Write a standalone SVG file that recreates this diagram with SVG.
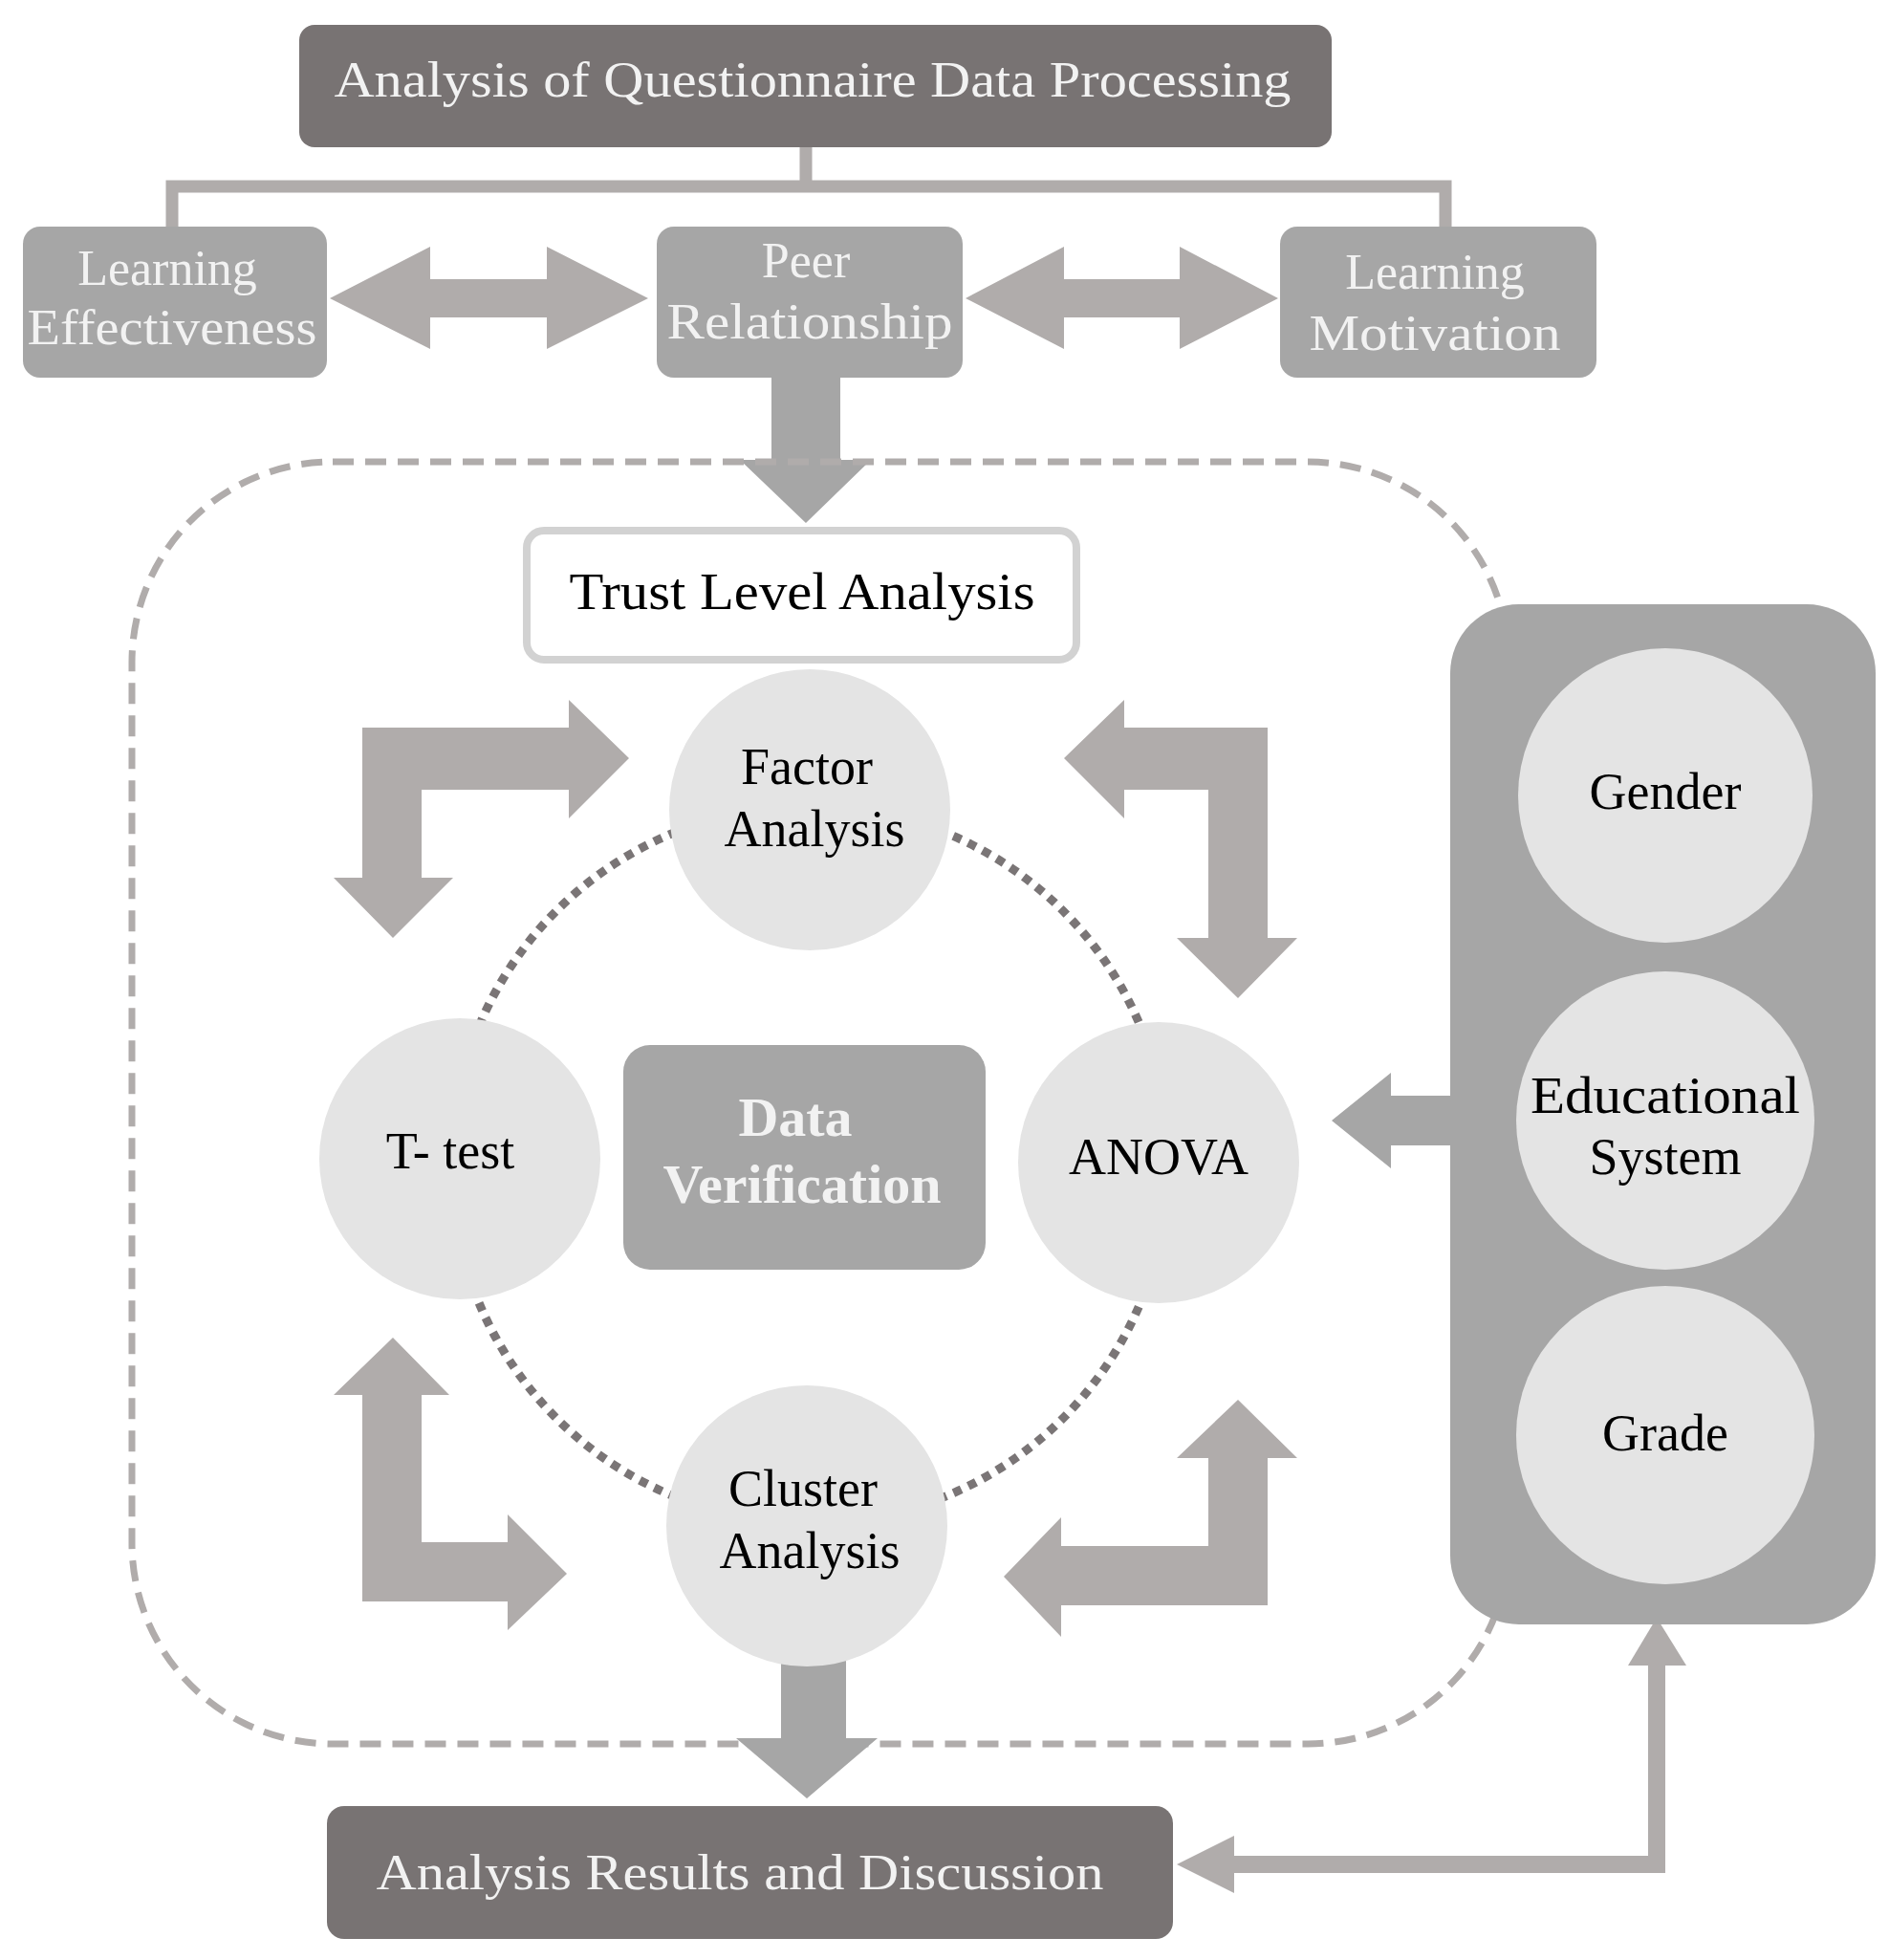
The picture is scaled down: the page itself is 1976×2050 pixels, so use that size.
<svg xmlns="http://www.w3.org/2000/svg" width="1976" height="2050" viewBox="0 0 1976 2050">
<style>
text{font-family:"Liberation Serif","DejaVu Serif",serif;text-anchor:middle}
.w{fill:#f2f2f2;font-size:52px}
.k{fill:#000;font-size:54px}
.a{fill:#b0acab}
.g{fill:#a6a6a6}
.c{fill:#e4e4e4}
</style>
<rect width="1976" height="2050" fill="#fff"/>
<g id="connectors">
<path d="M843 154V195M180 237V195H1512V237" fill="none" stroke="#b0acab" stroke-width="13"/>
<polygon class="a" points="345,312 450,258 450,292 572,292 572,258 678,312 572,365 572,332 450,332 450,365"/>
<polygon class="a" points="1010,312 1113,258 1113,292 1234,292 1234,258 1337,312 1234,365 1234,332 1113,332 1113,365"/>
<polygon class="g" points="807,395 879,395 879,481 911,481 843,547 774,481 807,481"/>
<rect x="138" y="483" width="1440" height="1341" rx="210" fill="none" stroke="#b0acab" stroke-width="7" stroke-dasharray="22 12"/>
<circle cx="847" cy="1218" r="375" fill="none" stroke="#7a7576" stroke-width="9" stroke-dasharray="9 8"/>
<polygon class="a" points="379,761 595,761 595,732 658,793 595,856 595,826 441,826 441,918 474,918 411,981 349,918 379,918"/>
<polygon class="a" points="1326,761 1176,761 1176,732 1113,793 1176,856 1176,826 1264,826 1264,981 1231,981 1295,1044 1357,981 1326,981"/>
<polygon class="a" points="379,1675 531,1675 531,1705 593,1646 531,1584 531,1613 441,1613 441,1459 470,1459 411,1399 349,1459 379,1459"/>
<polygon class="a" points="1326,1679 1110,1679 1110,1712 1050,1649 1110,1587 1110,1617 1264,1617 1264,1525 1231,1525 1295,1464 1357,1525 1326,1525"/>
<polygon class="g" points="1517,1146 1455,1146 1455,1122 1393,1172 1455,1222 1455,1198 1517,1198"/>
<polygon class="g" points="817,1728 885,1728 885,1818 918,1818 844,1881 770,1818 817,1818"/>
<path d="M1291 1950H1733V1742" fill="none" stroke="#b0acab" stroke-width="18"/>
<polygon class="a" points="1231,1950 1291,1920 1291,1980"/>
<polygon class="a" points="1703,1742 1733,1692 1764,1742"/>
</g>
<g id="top"><rect x="313" y="26" width="1080" height="128" rx="16" fill="#787373"/><text class="w" x="850" y="101" textLength="1001" lengthAdjust="spacingAndGlyphs">Analysis of Questionnaire Data Processing</text></g>
<g id="le"><rect class="g" x="24" y="237" width="318" height="158" rx="18"/><text class="w" x="175" y="298">Learning</text><text class="w" x="180" y="360" textLength="303" lengthAdjust="spacingAndGlyphs">Effectiveness</text></g>
<g id="pr"><rect class="g" x="687" y="237" width="320" height="158" rx="18"/><text class="w" x="843" y="290">Peer</text><text class="w" x="847" y="354" textLength="299" lengthAdjust="spacingAndGlyphs">Relationship</text></g>
<g id="lm"><rect class="g" x="1339" y="237" width="331" height="158" rx="18"/><text class="w" x="1501" y="302">Learning</text><text class="w" x="1501" y="366" textLength="263" lengthAdjust="spacingAndGlyphs">Motivation</text></g>
<g id="trust"><rect x="551" y="555" width="575" height="135" rx="18" fill="#fff" stroke="#d2d2d2" stroke-width="8"/><text class="k" x="839" y="637" textLength="487" lengthAdjust="spacingAndGlyphs">Trust Level Analysis</text></g>
<g id="factor"><circle class="c" cx="847" cy="847" r="147"/><text class="k" x="844" y="820">Factor</text><text class="k" x="852" y="885">Analysis</text></g>
<g id="ttest"><circle class="c" cx="481" cy="1212" r="147"/><text class="k" x="471" y="1222">T- test</text></g>
<g id="anova"><circle class="c" cx="1212" cy="1216" r="147"/><text class="k" x="1212" y="1228">ANOVA</text></g>
<g id="cluster"><circle class="c" cx="844" cy="1596" r="147"/><text class="k" x="840" y="1575">Cluster</text><text class="k" x="847" y="1640">Analysis</text></g>
<g id="verify"><rect class="g" x="652" y="1093" width="379" height="235" rx="28"/><text x="832" y="1188" fill="#f2f2f2" font-size="58" font-weight="bold">Data</text><text x="839" y="1258" fill="#f2f2f2" font-size="58" font-weight="bold">Verification</text></g>
<g id="factors"><rect class="g" x="1517" y="632" width="445" height="1067" rx="72"/>
<circle class="c" cx="1742" cy="832" r="154"/><text class="k" x="1742" y="846" font-size="54">Gender</text>
<circle class="c" cx="1742" cy="1172" r="156"/><text class="k" x="1742" y="1164" textLength="282" lengthAdjust="spacingAndGlyphs">Educational</text><text class="k" x="1742" y="1228">System</text>
<circle class="c" cx="1742" cy="1501" r="156"/><text class="k" x="1742" y="1517">Grade</text></g>
<g id="results"><rect x="342" y="1889" width="885" height="139" rx="18" fill="#787373"/><text class="w" x="774" y="1976" textLength="761" lengthAdjust="spacingAndGlyphs">Analysis Results and Discussion</text></g>
</svg>
